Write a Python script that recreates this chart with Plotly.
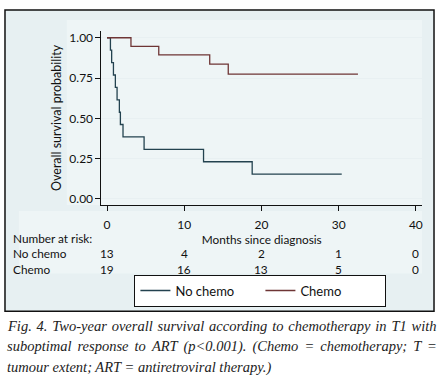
import plotly.graph_objects as go

W, H = 441, 382

# ---- data ----
no_chemo_t = [0, 0.44, 0.6, 0.83, 1.08, 1.3, 1.6, 1.73, 2.07, 4.8, 12.5, 18.8, 30.4]
no_chemo_s = [1.0, 0.923, 0.846, 0.769, 0.692, 0.615, 0.538, 0.462, 0.385, 0.308, 0.231, 0.154, 0.154]
chemo_t = [0, 3.1, 6.7, 13.3, 15.7, 32.5]
chemo_s = [1.0, 0.947, 0.894, 0.836, 0.774, 0.774]

risk_times = [0, 10, 20, 30, 40]
risk_no_chemo = [13, 4, 2, 1, 0]
risk_chemo = [19, 16, 13, 5, 0]

x_ticks = [0, 10, 20, 30, 40]
y_ticks = [0, 0.25, 0.5, 0.75, 1.0]

caption_lines = [
    "Fig. 4. Two-year overall survival according to chemotherapy in T1 with",
    "suboptimal response to ART (p<0.001). (Chemo = chemotherapy; T =",
    "tumour extent; ART = antiretroviral therapy.)",
]
# extra hair spaces per word gap to imitate justified text
caption_extra = [1, 2, 0]

C_NO = "#23424f"
C_CH = "#6e3535"
FONT = "Lato"

def px_x(p):
    return p / W

def px_y(p):
    return (H - p) / H

fig = go.Figure()
fig.add_trace(go.Scatter(x=no_chemo_t, y=no_chemo_s, mode="lines", line_shape="hv",
                         line=dict(color=C_NO, width=1.3), name="No chemo"))
fig.add_trace(go.Scatter(x=chemo_t, y=chemo_s, mode="lines", line_shape="hv",
                         line=dict(color=C_CH, width=1.3), name="Chemo"))

shapes = [
    dict(type="rect", xref="paper", yref="paper", x0=px_x(5), x1=px_x(435), y0=px_y(312), y1=px_y(9),
         fillcolor="#e7f0f2", line=dict(color="#111", width=1.5), layer="below"),
    dict(type="rect", xref="paper", yref="paper", x0=px_x(67), x1=px_x(423), y0=px_y(205), y1=px_y(19),
         fillcolor="#eef5f6", line=dict(width=0), layer="below"),
    dict(type="rect", xref="paper", yref="paper", x0=px_x(19), x1=px_x(423), y0=px_y(274), y1=px_y(211),
         fillcolor="#eef5f6", line=dict(width=0), layer="below"),
]

annotations = []
row_y = {"hdr": 239, "no": 254, "ch": 269.5}
RF = 11.8
def ann(x, y, text, xref="paper", xanchor="left"):
    return dict(x=x, y=px_y(y), xref=xref, yref="paper", text=text, showarrow=False, borderpad=0,
                xanchor=xanchor, yanchor="middle", font=dict(size=RF, color="#111", family=FONT))

annotations.append(ann(px_x(12), row_y["hdr"], "Number at risk:"))
annotations.append(ann(px_x(12), row_y["no"], "No chemo"))
annotations.append(ann(px_x(12), row_y["ch"], "Chemo"))
for t, a, b in zip(risk_times, risk_no_chemo, risk_chemo):
    annotations.append(ann(t, row_y["no"], str(a), xref="x", xanchor="center"))
    annotations.append(ann(t, row_y["ch"], str(b), xref="x", xanchor="center"))

for i, line in enumerate(caption_lines):
    txt = line.replace("<", "&lt;").replace(" ", " " + "&#8202;" * caption_extra[i])
    annotations.append(dict(x=px_x(5), y=px_y(327 + 20.5 * i), xref="paper", yref="paper",
                            text="<i>" + txt + "</i>", showarrow=False,
                            xanchor="left", yanchor="middle",
                            font=dict(size=14.5, color="#222", family="Liberation Serif")))

fig.update_layout(
    width=W, height=H,
    margin=dict(l=0, r=0, t=0, b=0),
    paper_bgcolor="white", plot_bgcolor="white",
    shapes=shapes, annotations=annotations,
    font=dict(family=FONT, size=12, color="#111"),
    showlegend=True,
    legend=dict(orientation="h", x=px_x(261), y=px_y(275), xanchor="center", yanchor="top",
                bgcolor="white", bordercolor="#111", borderwidth=1,
                font=dict(size=13, family=FONT, color="#111"), entrywidth=80, entrywidthmode="pixels",
                tracegroupgap=0),
    xaxis=dict(domain=[px_x(101.7), px_x(423)], range=[-0.72, 40.8], tickvals=x_ticks,
               ticks="outside", ticklen=5, tickcolor="#111", showline=True, linecolor="#111", linewidth=1,
               showgrid=False, zeroline=False, tickfont=dict(size=12, color="#111"), ticklabelstandoff=4,
               title=dict(text="Months since diagnosis", font=dict(size=RF, color="#111"), standoff=2)),
    yaxis=dict(domain=[px_y(205), px_y(30)], range=[-0.037, 1.043], tickvals=y_ticks, tickformat=".2f",
               ticks="outside", ticklen=5, tickcolor="#111", showline=True, linecolor="#111", linewidth=1,
               showgrid=True, gridcolor="#e8f0f2", gridwidth=1, zeroline=False,
               tickfont=dict(size=12, color="#111"),
               title=dict(text="Overall survival probability", font=dict(size=12.5, color="#111"), standoff=4)),
)

fig.write_html("out.html", config={"displayModeBar": False},
               post_script="document.body.style.margin='0';document.body.style.padding='0';")
